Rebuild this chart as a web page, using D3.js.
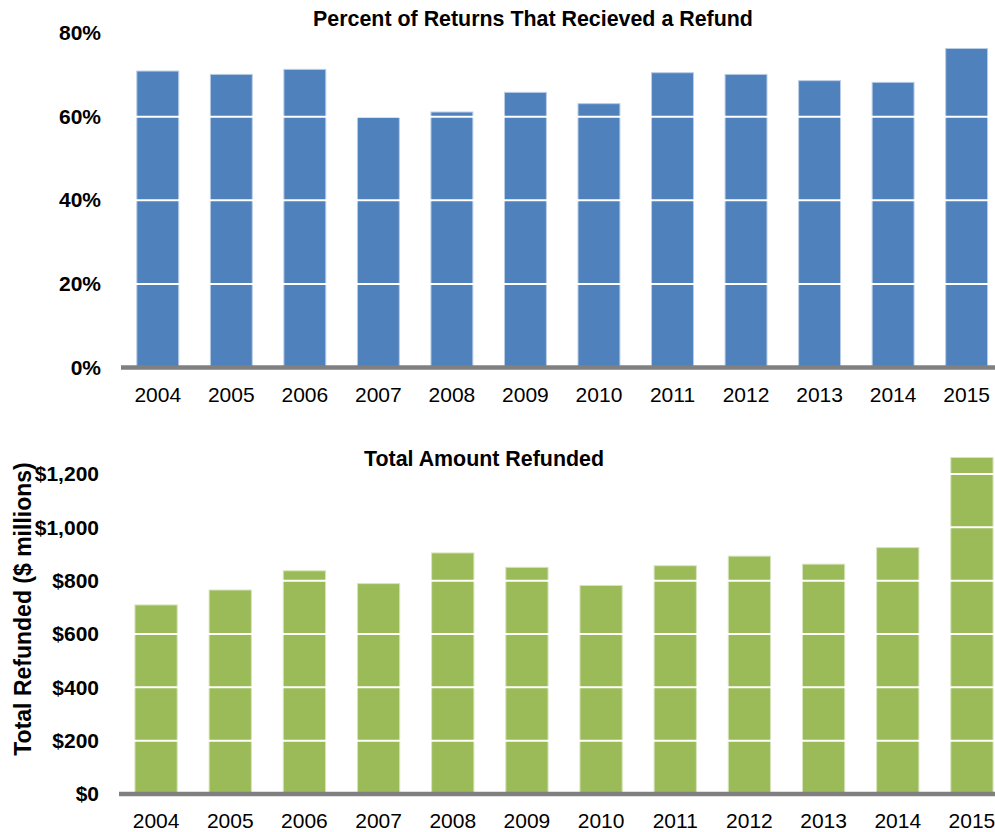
<!DOCTYPE html>
<html>
<head>
<meta charset="utf-8">
<script src="https://cdn.jsdelivr.net/npm/d3@7"></script>
<style>
  html, body { margin: 0; padding: 0; background: #fff; }
  svg { display: block; font-family: "Liberation Sans", Arial, sans-serif; }
</style>
</head>
<body>
<svg id="chart" width="995" height="832"></svg>
<script>
const years = ["2004","2005","2006","2007","2008","2009","2010","2011","2012","2013","2014","2015"];
const pctRefund = [0.709, 0.701, 0.713, 0.600, 0.611, 0.658, 0.631, 0.705, 0.701, 0.686, 0.682, 0.763];
const amtRefunded = [709, 765, 837, 789, 904, 850, 782, 856, 892, 862, 924, 1262];
const pctTicks = [0, 0.2, 0.4, 0.6, 0.8];
const amtTicks = [0, 200, 400, 600, 800, 1000, 1200];
const titles = ["Percent of Returns That Recieved a Refund", "Total Amount Refunded"];
const yTitle = "Total Refunded ($ millions)";

const svg = d3.select("#chart");
const FONT = "Liberation Sans, Arial, sans-serif";

function panel(cfg) {
  const x = d3.scaleBand().domain(years).range(cfg.xRange).paddingInner(0.43).paddingOuter(0.215);
  const y = d3.scaleLinear().domain(cfg.domain).range(cfg.yRange);
  const g = svg.append("g");

  g.selectAll("rect.bar").data(cfg.values).enter().append("rect")
    .attr("class", "bar")
    .attr("x", (d, i) => x(years[i]))
    .attr("width", x.bandwidth())
    .attr("y", d => y(d))
    .attr("height", d => y(0) - y(d))
    .attr("fill", cfg.color)
    .attr("stroke", cfg.stroke)
    .attr("stroke-width", 1);

  // white gridlines over bars
  g.selectAll("line.grid").data(cfg.ticks.filter(t => t > 0)).enter().append("line")
    .attr("x1", cfg.xRange[0]).attr("x2", 995)
    .attr("y1", d => y(d)).attr("y2", d => y(d))
    .attr("stroke", "#fff").attr("stroke-width", 2);

  // y axis labels
  const yAxis = d3.axisLeft(y).tickValues(cfg.ticks).tickFormat(cfg.fmt).tickSize(0).tickPadding(0);
  const ya = g.append("g").attr("transform", `translate(${cfg.yLabelX},0)`).call(yAxis);
  ya.select(".domain").remove();
  ya.selectAll("text").attr("font-size", 21).attr("font-weight", "bold").attr("fill", "#000")
    .attr("font-family", FONT);

  // baseline
  g.append("line").attr("x1", cfg.xRange[0]).attr("x2", 995)
    .attr("y1", y(0)).attr("y2", y(0))
    .attr("stroke", "#808080").attr("stroke-width", 4.5);

  // x axis labels
  const xAxis = d3.axisBottom(x).tickSize(0).tickPadding(0);
  const xa = g.append("g").attr("transform", `translate(0,${cfg.xLabelBase})`).call(xAxis);
  xa.select(".domain").remove();
  xa.selectAll("text").attr("font-size", 21).attr("fill", "#000")
    .attr("font-family", FONT).attr("dy", 0).attr("y", 0);

  // title
  g.append("text").attr("x", cfg.titleX).attr("y", cfg.titleBase)
    .attr("text-anchor", "middle")
    .attr("font-size", 21.4).attr("font-weight", "bold").attr("fill", "#000")
    .text(cfg.title);
}

panel({
  values: pctRefund, domain: [0, 0.8], yRange: [367.5, 33], ticks: pctTicks,
  fmt: d3.format(".0%"), color: "#4F81BD", stroke: "#B9CDE5",
  xRange: [121, 1003.4], yLabelX: 101, xLabelBase: 401.5,
  title: titles[0], titleX: 533, titleBase: 26
});

panel({
  values: amtRefunded, domain: [0, 1200], yRange: [794, 474], ticks: amtTicks,
  fmt: d => "$" + d3.format(",")(d), color: "#9BBB59", stroke: "#D7E4BD",
  xRange: [119, 1009], yLabelX: 99, xLabelBase: 828,
  title: titles[1], titleX: 484, titleBase: 466
});

svg.append("text")
  .attr("transform", "translate(23,609) rotate(-90)")
  .attr("text-anchor", "middle").attr("dy", "0.35em")
  .attr("font-size", 23).attr("font-weight", "bold").attr("fill", "#000")
  .attr("font-family", FONT)
  .text(yTitle);
</script>
</body>
</html>
